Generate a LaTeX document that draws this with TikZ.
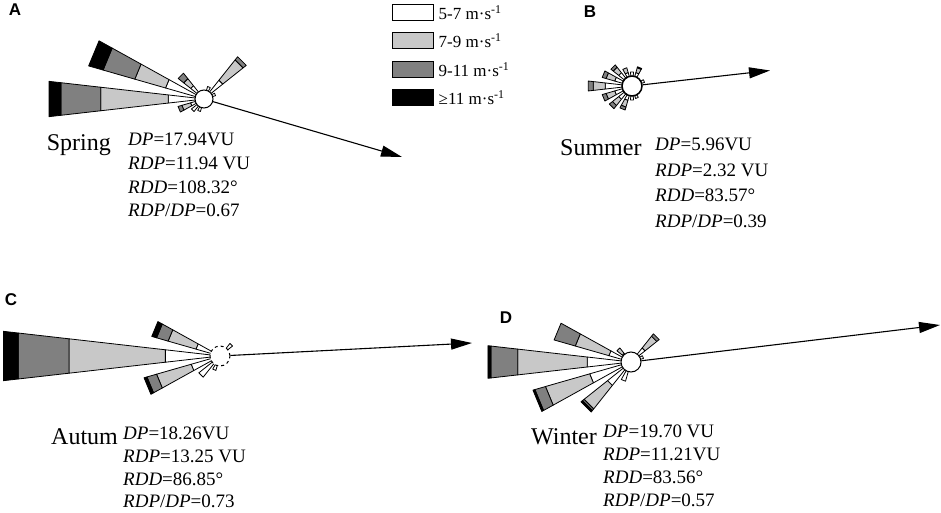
\documentclass[tikz,border=0pt]{standalone}
\usepackage{fontspec}
\setmainfont{Liberation Serif}
\newfontfamily\panelfont{Liberation Sans}
\usetikzlibrary{arrows.meta,positioning}
\definecolor{speedlow}{gray}{1}
\definecolor{speedmid}{RGB}{200,200,200}
\definecolor{speedhigh}{RGB}{128,128,128}
\definecolor{speedtop}{RGB}{0,0,0}

% one band of a petal: angle, inner radius, outer radius, colour
\newcommand{\bandseg}[4]{%
  \filldraw[fill=#4, petalline] (-#1-6.5:#2) -- (-#1+6.5:#2) -- (-#1+6.5:#3) -- (-#1-6.5:#3) -- cycle;}
% petal: centre, angle, end of white, light grey, dark grey, black
\newcommand{\windpetal}[6]{%
  \begin{scope}[shift={(#1)}]
    \bandseg{#2}{0}{#3}{speedlow}
    \ifdim #4pt>#3pt \bandseg{#2}{#3}{#4}{speedmid}\fi
    \ifdim #5pt>#4pt \bandseg{#2}{#4}{#5}{speedhigh}\fi
    \ifdim #6pt>#5pt \bandseg{#2}{#5}{#6}{speedtop}\fi
  \end{scope}}

\begin{document}
\begin{tikzpicture}[x=1pt,y=-1pt,
    petalline/.style={draw=black, line width=0.8pt, line join=round},
    calm/.style={circle, draw=black, fill=white, line width=1pt, minimum size=18pt, inner sep=0pt},
    resultant/.style={line width=1.1pt, -{Triangle[length=21pt,width=11pt]}},
    season/.style={font=\fontsize{24}{28}\selectfont, anchor=base west, inner sep=0pt},
    stat/.style={font=\fontsize{19}{23}\selectfont, anchor=base west, inner sep=0pt},
    keybox/.style={draw=black, line width=1pt, minimum width=41pt, minimum height=16pt, inner sep=0pt},
    keytext/.style={font=\fontsize{17}{20}\selectfont, anchor=west, inner sep=0pt},
    panel/.style={font=\panelfont\bfseries\fontsize{17}{20}\selectfont, inner sep=0pt}]

\useasboundingbox (0,0) rectangle (941,513);

% legend
\node[keybox, fill=speedlow]  (keylow)  at (412.5,13) {};
\node[keybox, fill=speedmid]  (keymid)  at (412.5,41) {};
\node[keybox, fill=speedhigh] (keyhigh) at (412.5,69.5) {};
\node[keybox, fill=speedtop]  (keytop)  at (412.5,97.5) {};
\node[keytext, right=5pt of keylow]  (keylowtxt)  {5-7 m·s\textsuperscript{-1}};
\node[keytext, right=5pt of keymid]  (keymidtxt)  {7-9 m·s\textsuperscript{-1}};
\node[keytext, right=5pt of keyhigh] (keyhightxt) {9-11 m·s\textsuperscript{-1}};
\node[keytext, right=5pt of keytop]  (keytoptxt)  {≥11 m·s\textsuperscript{-1}};

% A: spring
\node[panel] (labA) at (15,10) {A};
\coordinate (centA) at (204,99);
\foreach \a/\w/\l/\d/\k in {180/36/104/144/156, 157.5/40/72/105/120, 135/17/26/33/33,
    45/24/50/54/54, 202.5/14/23/27/27, 67.5/13/13/13/13, 22.5/12/12/12/12,
    225/16/16/16/16, 247.5/13/13/13/13}
  {\windpetal{centA}{\a}{\w}{\l}{\d}{\k}}
\node[calm] (calmA) at (centA) {};
\coordinate (tipA) at (402,157);
\draw[resultant] (calmA) -- (tipA);
\node[season] (nameA) at (46.7,150) {Spring};
\node[stat] (dpA)   at (128,145.5) {\textit{DP}=17.94VU};
\node[stat] (rdpA)  at (128,169.3) {\textit{RDP}=11.94 VU};
\node[stat] (rddA)  at (128,193.1) {\textit{RDD}=108.32°};
\node[stat] (ratA)  at (128,216.9) {\textit{RDP}/\textit{DP}=0.67};

% B: summer
\node[panel] (labB) at (590,12) {B};
\coordinate (centB) at (632,86);
\foreach \a/\w/\l/\d/\k in {180/27/39/44/44, 157.5/18/27/31/31, 135/17/24/27/27,
    202.5/18/27/31/31, 225/17/25/29/29, 247.5/15/22/25/25, 112.5/14/19/19/19,
    67.5/14/19/20/20, 90/14/14/14/14, 270/14/14/14/14, 22.5/13/13/13/13, 292.5/13/13/13/13}
  {\windpetal{centB}{\a}{\w}{\l}{\d}{\k}}
\node[calm, line width=1.5pt, minimum size=20pt] (calmB) at (centB) {};
\coordinate (tipB) at (770,70.5);
\draw[resultant] (calmB) -- (tipB);
\node[season] (nameB) at (560,156) {Summer};
\node[stat] (dpB)   at (655,151) {\textit{DP}=5.96VU};
\node[stat] (rdpB)  at (655,176) {\textit{RDP}=2.32 VU};
\node[stat] (rddB)  at (655,201.5) {\textit{RDD}=83.57°};
\node[stat] (ratB)  at (655,227) {\textit{RDP}/\textit{DP}=0.39};

% C: autumn
\node[panel] (labC) at (11,300) {C};
\coordinate (centC) at (220,356);
\foreach \a/\w/\l/\d/\k in {180/55/152/203/218, 157.5/25/54/66/71, 202.5/30/66/76/79,
    45/16/16/16/16, 225/27/27/27/27, 247.5/15/15/15/15}
  {\windpetal{centC}{\a}{\w}{\l}{\d}{\k}}
\node[calm, dashed, minimum size=20pt] (calmC) at (centC) {};
\coordinate (tipC) at (472,343);
\draw[resultant] (calmC) -- (tipC);
\node[season] (nameC) at (51,444) {Autum};
\node[stat] (dpC)   at (123,439) {\textit{DP}=18.26VU};
\node[stat] (rdpC)  at (123,462) {\textit{RDP}=13.25 VU};
\node[stat] (rddC)  at (123,485) {\textit{RDD}=86.85°};
\node[stat] (ratC)  at (123,507) {\textit{RDP}/\textit{DP}=0.73};

% D: winter
\node[panel] (labD) at (506,318) {D};
\coordinate (centD) at (631,362);
\foreach \a/\w/\l/\d/\k in {180/44/114/141/144, 157.5/23/58/80/80, 202.5/43/89/100/102,
    225/30/60/62/64, 45/18/33/36/36, 135/11/18/18/18, 247.5/20/20/20/20, 22.5/13/13/13/13}
  {\windpetal{centD}{\a}{\w}{\l}{\d}{\k}}
\node[calm, minimum size=20pt] (calmD) at (centD) {};
\coordinate (tipD) at (940,325);
\draw[resultant] (calmD) -- (tipD);
\node[season] (nameD) at (531,444) {Winter};
\node[stat] (dpD)   at (603,437) {\textit{DP}=19.70 VU};
\node[stat] (rdpD)  at (603,460) {\textit{RDP}=11.21VU};
\node[stat] (rddD)  at (603,483) {\textit{RDD}=83.56°};
\node[stat] (ratD)  at (603,506) {\textit{RDP}/\textit{DP}=0.57};
\end{tikzpicture}
\end{document}
